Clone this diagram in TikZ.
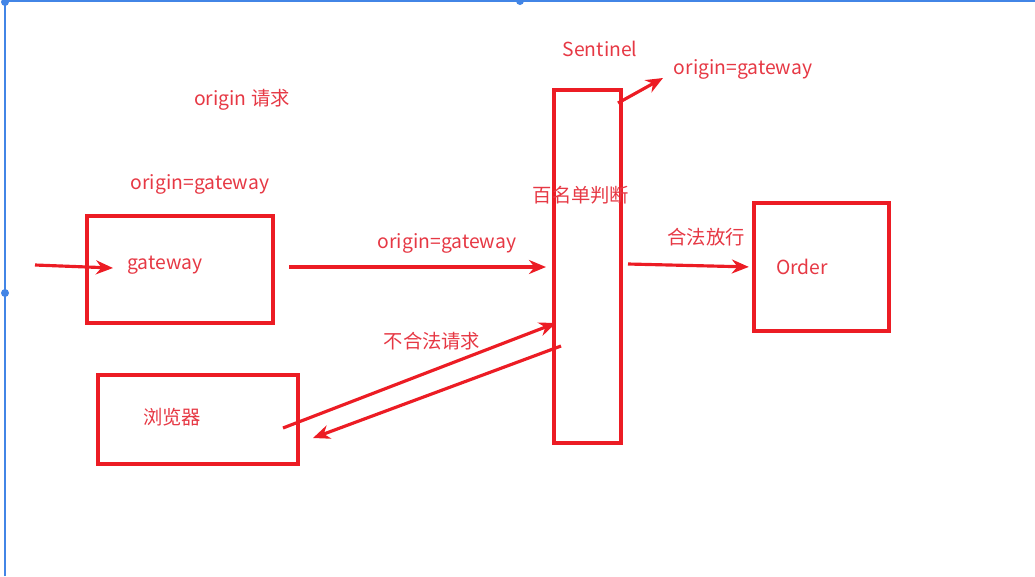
\documentclass[tikz,border=0pt]{standalone}
\usepackage{fontspec}
\setmainfont{Noto Sans CJK SC}
\usetikzlibrary{arrows.meta,positioning}
\definecolor{linered}{RGB}{236,28,36}
\definecolor{textred}{RGB}{230,56,68}
\definecolor{selblue}{RGB}{66,133,230}

\begin{document}
\begin{tikzpicture}[
    x=0.02cm, y=-0.02cm,
    box/.style={rectangle, draw=linered, line width=1.9pt, inner sep=0pt},
    lbl/.style={text=textred, font=\fontsize{11}{13}\selectfont, inner sep=1pt},
    arrow/.style={-{Stealth[length=3.4mm, width=2.8mm]}, draw=linered, line width=1.8pt}
]
    \useasboundingbox (0,0) rectangle (1035,576);
    % selection frame
    \draw[selblue, line width=1.2pt] (5,576) -- (5,1) -- (1035,1);
    \fill[selblue] (5,2) circle (4) (520,1) circle (4) (5,293) circle (4);

    % boxes
    \node[box, minimum width=3.72cm, minimum height=2.14cm] (gateway) at (180,269.5) {};
    \node[box, minimum width=4.0cm, minimum height=1.78cm] (browser) at (198,419.5) {};
    \node[box, minimum width=1.34cm, minimum height=7.06cm] (sentinel) at (587.5,266.5) {};
    \node[box, minimum width=2.7cm, minimum height=2.56cm] (order) at (821.5,267) {};

    % texts
    \node[lbl] (gwtext) at (165,265) {gateway};
    \node[lbl] (brtext) at (172,417) {浏览器};
    \node[lbl] (ordtext) at (802,267) {Order};
    \node[lbl] (request) at (242,100) {origin 请求};
    \node[lbl] (gworigin) at (200,184) {origin=gateway};
    \node[lbl] (passorigin) at (447,243) {origin=gateway};
    \node[lbl] (sntitle) at (600,49) {Sentinel};
    \node[lbl] (outorigin) at (743,69) {origin=gateway};
    \node[lbl] (whitelist) at (581,195) {百名单判断};
    \node[lbl] (allow) at (706,237) {合法放行};
    \node[lbl] (deny) at (432,341) {不合法请求};

    \coordinate (entry) at (35,265);
    \coordinate (gwout) at (289,267);
    \coordinate (snin) at (546,267);
    \coordinate (sntop) at (618,103);
    \coordinate (snout) at (628,264);
    \coordinate (brout) at (283,428);
    \coordinate (snhit) at (556,323);
    \coordinate (snback) at (561,346);
    \coordinate (brin) at (313,438);

    \draw[arrow] (entry) -- (113,268);
    \draw[arrow] (gwout) -- (snin);
    \draw[arrow] (sntop) -- (663,78);
    \draw[arrow, shorten >=2] (snout) -- (order.west);
    \draw[arrow] (brout) -- (snhit);
    \draw[arrow] (snback) -- (brin);
\end{tikzpicture}
\end{document}
